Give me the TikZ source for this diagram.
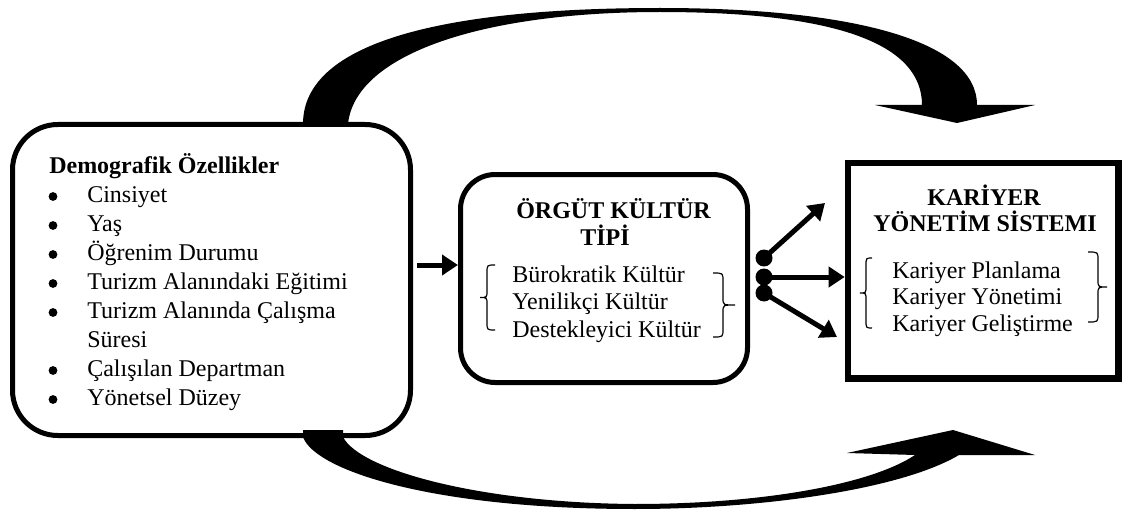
\documentclass[tikz,border=0pt]{standalone}
\usepackage{fontspec}
\setmainfont{Liberation Serif}
\usetikzlibrary{arrows.meta,calc}

\begin{document}
\begin{tikzpicture}[x=0.75pt,y=-0.75pt,
  txt/.style={anchor=base west,inner sep=0pt,font=\fontsize{18}{21}\selectfont},
  ttl/.style={anchor=base,inner sep=0pt,font=\fontsize{18}{21}\selectfont\bfseries},
  bul/.style={circle,fill,inner sep=0pt,minimum size=6.6pt},
  roundbox/.style={draw,line width=3.75pt,inner sep=0pt},
  dot/.style={circle,fill,inner sep=0pt,minimum size=12.75pt},
  fatarrow/.style={line width=3.75pt,-{Triangle[length=12pt,width=15pt]}},
  curly/.style={line width=0.9pt},
]
\useasboundingbox (0,0) rectangle (1122,510);

% boxes
\node[roundbox,rounded corners=34pt,minimum width=298.5pt,minimum height=233.25pt] (lb) at (211.5,280) {};
\node[roundbox,rounded corners=26pt,minimum width=215.25pt,minimum height=156pt] (mb) at (604,278.5) {};
\node[draw,line width=4.9pt,inner sep=0pt,minimum width=202.9pt,minimum height=161.6pt] (rb) at (983.25,270.75) {};

% upper curved arrow
\fill (303,124) .. controls (303,40) and (450,8) .. (660,8)
  .. controls (850,8) and (977,40) .. (977,105)
  -- (1035,105) -- (957,123) -- (875,105) -- (922,105)
  .. controls (922,45) and (840,12) .. (660,12)
  .. controls (480,12) and (355,55) .. (348,124) -- cycle;

% lower curved arrow
\fill (303,430) -- (343,430) -- (343,437)
  .. controls (360,470) and (480,503) .. (635,504)
  .. controls (760,504) and (870,485) .. (915,455)
  -- (847,453) -- (953,430) -- (1035,455) -- (959,455)
  .. controls (900,490) and (760,509) .. (635,509)
  .. controls (430,509) and (315,470) .. (303,437) -- cycle;

% left box text
\node[ttl,anchor=base west] (lt) at (49,174) {Demografik Özellikler};
\foreach \y/\t in {202/Cinsiyet,231/Yaş,260/Öğrenim Durumu,289/Turizm Alanındaki Eğitimi,318/Turizm Alanında Çalışma,376/Çalışılan Departman,405/Yönetsel Düzey}{
  \node[bul] at (53,\y-5.5) {};
  \node[txt] at (87,\y) {\t};
}
\node[txt] at (87,347) {Süresi};

% middle box text
\node[ttl] (mt1) at (613.5,218) {ÖRGÜT KÜLTÜR};
\node[ttl] (mt2) at (605,245) {TİPİ};
\node[txt] at (512,282) {Bürokratik Kültür};
\node[txt] at (512,309.5) {Yenilikçi Kültür};
\node[txt] at (512,337) {Destekleyici Kültür};
% braces: end x, spine x, tip x, top y, bottom y
\foreach \e/\l/\t/\ya/\yb in {495/487/480/265/330, 713/723/735/273/337, 872/866/860/258/328, 1088/1098/1107/252/322}{
  \draw[curly] (\e,\ya) .. controls (\l,\ya) .. (\l,\ya+8)
    -- (\l,{(\ya+\yb)/2-7}) .. controls (\l,{(\ya+\yb)/2}) .. (\t,{(\ya+\yb)/2})
    .. controls (\l,{(\ya+\yb)/2}) .. (\l,{(\ya+\yb)/2+7})
    -- (\l,\yb-8) .. controls (\l,\yb) .. (\e,\yb);
}

% right box text
\node[ttl] (rt1) at (984,205) {KARİYER};
\node[ttl] (rt2) at (985,231) {YÖNETİM SİSTEMI};
\node[txt] at (892,278) {Kariyer Planlama};
\node[txt] at (892,304.5) {Kariyer Yönetimi};
\node[txt] at (892,331) {Kariyer Geliştirme};

% connectors
\coordinate (ay) at (0,265);
\draw[fatarrow,shorten <=3pt] (lb.east |- ay) -- (mb.west |- ay);

\node[dot] (d1) at (764,258) {};
\node[dot] (d2) at (764,277) {};
\node[dot] (d3) at (764,293) {};
\coordinate (t1) at (825,203);
\coordinate (t3) at (837,337);
\draw[fatarrow] (d1.center) -- (t1);
\draw[fatarrow] (d2.center) -- (rb.west |- d2);
\draw[fatarrow] (d3.center) -- (t3);
\end{tikzpicture}
\end{document}
